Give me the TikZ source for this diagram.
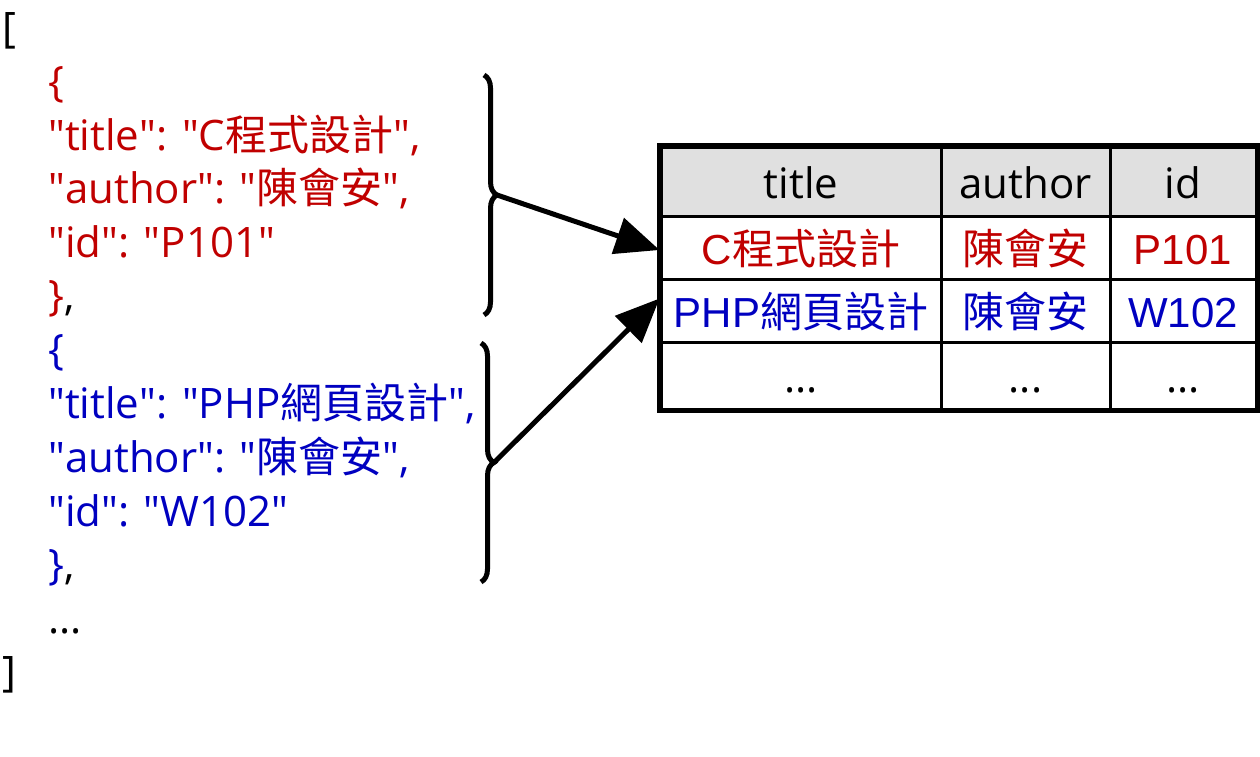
\documentclass[tikz,border=0pt]{standalone}
\usepackage{fontspec}
\setmainfont{Open Sans}
\newfontfamily\cjk{Noto Sans CJK TC}
\newfontfamily\arial{Liberation Sans}
\usetikzlibrary{decorations.pathreplacing,arrows.meta}
\definecolor{jsonred}{RGB}{192,0,0}
\definecolor{jsonblue}{RGB}{0,0,192}
\definecolor{headgray}{RGB}{224,224,224}
\newcommand{\qt}{\textquotedbl}

\begin{document}
\begin{tikzpicture}[x=1pt,y=-1pt,
    jline/.style={anchor=base west, inner sep=0pt, font=\fontsize{42}{50}\selectfont},
    cell/.style={draw, line width=3pt, inner sep=0pt, text height=38pt, text depth=5pt,
        font=\fontsize{42}{50}\selectfont},
    brc/.style={decorate, decoration={brace, amplitude=13pt}, line width=5pt},
    link/.style={-{Triangle[length=44pt,width=37pt]}, line width=5pt}]
    \useasboundingbox (0,0) rectangle (1260,756);

    % JSON text
    \node[jline] (lb) at (2,42) {[};
    \node[jline, jsonred] (o1) at (48,96) {\{};
    \node[jline, jsonred] (t1) at (48,150) {\qt title\qt: \qt C{\cjk 程式設計}\qt,};
    \node[jline, jsonred] (a1) at (48,203.5) {\qt author\qt: \qt{\cjk 陳會安}\qt,};
    \node[jline, jsonred] (i1) at (48,257) {\qt id\qt: \qt P101\qt};
    \node[jline, jsonred] (c1) at (48,310.5) {\}\textcolor{black}{,}};
    \node[jline, jsonblue] (o2) at (48,364) {\{};
    \node[jline, jsonblue] (t2) at (48,418) {\qt title\qt: \qt PHP{\cjk 網頁設計}\qt,};
    \node[jline, jsonblue] (a2) at (48,472) {\qt author\qt: \qt{\cjk 陳會安}\qt,};
    \node[jline, jsonblue] (i2) at (48,526) {\qt id\qt: \qt W102\qt};
    \node[jline, jsonblue] (c2) at (48,579.5) {\}\textcolor{black}{,}};
    \node[jline] (more) at (48,633) {...};
    \node[jline] (rb) at (2,686.5) {]};

    % Braces
    \draw[brc] (484,75) -- (484,315) coordinate[midway, xshift=13pt] (tip1);
    \draw[brc] (481,343) -- (481,582) coordinate[midway, xshift=13pt] (tip2);

    % Table header
    \node[cell, fill=headgray, minimum width=280pt, minimum height=69pt] (h1) at (801,181.5) {title};
    \node[cell, fill=headgray, minimum width=169pt, minimum height=69pt] (h2) at (1025.5,181.5) {author};
    \node[cell, fill=headgray, minimum width=146pt, minimum height=69pt] (h3) at (1183,181.5) {id};
    % Table rows
    \node[cell, text=jsonred, minimum width=280pt, minimum height=63pt] (r1c1) at (801,247.5) {\arial C\cjk 程式設計};
    \node[cell, text=jsonred, minimum width=169pt, minimum height=63pt] (r1c2) at (1025.5,247.5) {\cjk 陳會安};
    \node[cell, text=jsonred, minimum width=146pt, minimum height=63pt] (r1c3) at (1183,247.5) {\arial P101};
    \node[cell, text=jsonblue, minimum width=280pt, minimum height=63pt] (r2c1) at (801,310.5) {\arial PHP\cjk 網頁設計};
    \node[cell, text=jsonblue, minimum width=169pt, minimum height=63pt] (r2c2) at (1025.5,310.5) {\cjk 陳會安};
    \node[cell, text=jsonblue, minimum width=146pt, minimum height=63pt] (r2c3) at (1183,310.5) {\arial W102};
    \node[cell, minimum width=280pt, minimum height=67pt] (r3c1) at (801,375.5) {...};
    \node[cell, minimum width=169pt, minimum height=67pt] (r3c2) at (1025.5,375.5) {...};
    \node[cell, minimum width=146pt, minimum height=67pt] (r3c3) at (1183,375.5) {...};
    \draw[line width=5pt] (h1.north west) rectangle (r3c3.south east);

    % Arrows
    \draw[link] (tip1) -- ([yshift=-2.5pt]r1c1.west);
    \draw[link] (tip2) -- ([yshift=12pt]r2c1.west);
\end{tikzpicture}
\end{document}
